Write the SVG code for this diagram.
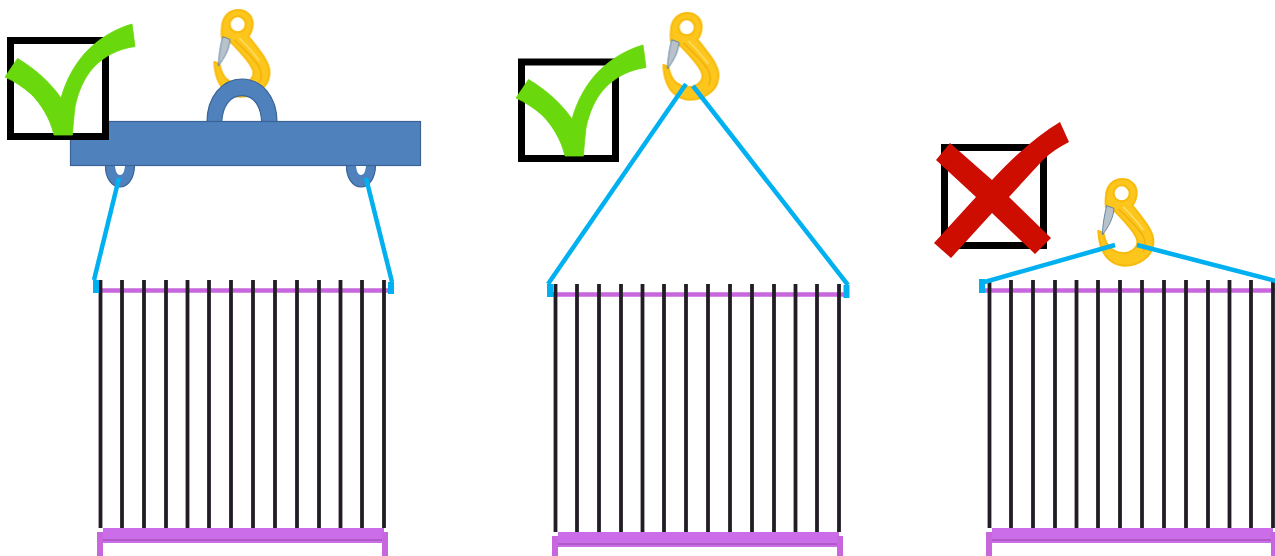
<svg xmlns="http://www.w3.org/2000/svg" width="1275" height="556" viewBox="0 0 1275 556">
<style>
.bar{stroke:#231f26;stroke-width:3.800;fill:none}
.pl{stroke:#c766dd;fill:none}
.sling{stroke:#00b0f0;stroke-width:4.500;fill:none}
.stub{stroke:#00b0f0;stroke-width:6;fill:none}
.box{fill:#fff;stroke:#000;stroke-width:7}
.check{fill:#69d80c;stroke:#69d80c;stroke-width:0.800}
.steel{fill:#4f81bd;stroke:#3a6496;stroke-width:1.200}
</style>
<defs>
<filter id="soft" x="-2%" y="-2%" width="104%" height="104%"><feGaussianBlur stdDeviation="0.5"/></filter>
<g id="rack">
<path class="pl" stroke-width="4.500" d="M93 290.500H390"/>
<path class="bar" d="M100.500 280V528M122 280V528M144 280V528M166 280V528M187.500 280V528M209 280V528M231 280V528M253 280V528M275 280V528M297 280V528M319 280V528M340.500 280V528M362 280V528M384 280V528"/>
<rect x="103" y="528" width="281" height="15" fill="#cb6ce8"/>
<path d="M103 540H384" stroke="#a654bd" stroke-width="1.500"/>
<path class="pl" stroke-width="6" d="M100 532V556M385 532V556"/>
</g>
<g id="hook" transform="scale(0.3333)">
<path fill-rule="evenodd" fill="#fdc61c" stroke="#f8bb0c" stroke-width="6" stroke-linejoin="round" d="M48 62C50 30 72 12 97 12C122 12 140 30 140 54C140 70 134 82 127 92C140 105 157 130 172 150C185 170 192 190 190 205C188 230 175 245 160 255C145 266 125 272 105 272C80 272 55 258 42 235C30 215 26 190 25 168L40 174C44 195 50 212 65 222C80 235 110 240 128 226C142 215 146 200 138 185C125 160 100 135 74 108L48 96C46 85 47 72 48 62ZM95 31A24 24 0 1 0 95.010 79A24 24 0 1 0 95 31Z"/>
<path d="M85 102C110 125 140 155 158 180C168 200 168 215 160 230" fill="none" stroke="#e9a400" stroke-width="4" opacity="0.7"/>
<path d="M100 96C120 116 142 140 160 165" fill="none" stroke="#ffe27a" stroke-width="5" opacity="0.8"/>
<path d="M50 92L72 100C70 130 56 155 37 180C38 150 43 120 50 92Z" fill="#b8c2c8" stroke="#4f7a9f" stroke-width="2.500"/>
</g>
<path id="tick" class="check" d="M5 77L17.500 58.500C34 68 50 82 61 98C66 80 75 63 88 50C100 38 115 29 132 24L135 46.500C118 49 104 56 93 68C84 78 78 92 75 107C74 116 73 125 72.500 135H54C50 118 41 104 31 94C23 87 14 81 5 77Z"/>
</defs>
<g filter="url(#soft)">
<g id="rack-1"><use href="#rack"/></g>
<g id="rack-2"><use href="#rack" x="455" y="4"/></g>
<g id="rack-3"><use href="#rack" x="889" y="0"/></g>
<g id="hook-1"><use href="#hook" transform="translate(206 6)"/></g>
<g id="hook-2"><use href="#hook" transform="translate(655 9)"/></g>
<g id="hook-3"><use href="#hook" transform="translate(1090 175)"/></g>
<g id="beam">
<path class="steel" d="M207 122C207 97 222 79 242 79C262 79 277 97 277 122H261.700C261 106 254 95.700 242 95.700C230 95.700 222.500 106 221.700 122Z"/>
<path class="steel" d="M105.500 165C105 178 112 187 120 187C128 187 134.500 178 134.500 165Z"/>
<path class="steel" d="M346.500 165C346 178 353 187 361 187C369 187 375.500 178 375.500 165Z"/>
<rect class="steel" x="70.500" y="121.500" width="350" height="44"/>
<path d="M115 166C115.500 171 117 175 120 175C123 175 124.500 171 125 166Z" fill="#fff"/>
<path d="M356 166C356.500 171 358 175 361 175C364 175 365.500 171 366 166Z" fill="#fff"/>
</g>
<g id="connectors">
<path class="sling" d="M94 280L119 178"/><path class="stub" d="M96 280V293"/>
<path class="sling" d="M392 282L366 178"/><path class="stub" d="M391 282V294"/>
<path class="sling" d="M548 284L686 84"/><path class="stub" d="M550 284V297"/>
<path class="sling" d="M848 285L693 86"/><path class="stub" d="M846.500 285V298"/>
<path class="sling" d="M981 283L1115 245"/><path class="stub" d="M982 279V293"/>
<path class="sling" d="M1137 245L1276 281"/>
</g>
<g id="mark-ok-1"><rect class="box" x="10.500" y="40.500" width="95" height="96"/><use href="#tick"/></g>
<g id="mark-ok-2"><rect class="box" x="521.500" y="62" width="94" height="96.500"/><use href="#tick" x="511" y="21"/></g>
<g id="mark-no">
<rect class="box" x="944.500" y="147.500" width="99" height="98"/>
<path fill="#cc0a06" d="M950 143L992 180C1010 161 1033 138 1060 122L1069 142C1059 147 1050 153 1043 160L1009 197L1051 238L1035 254L992 213L951 258L934 243L976 197L936 160Z"/>
</g>
</g>
</svg>
